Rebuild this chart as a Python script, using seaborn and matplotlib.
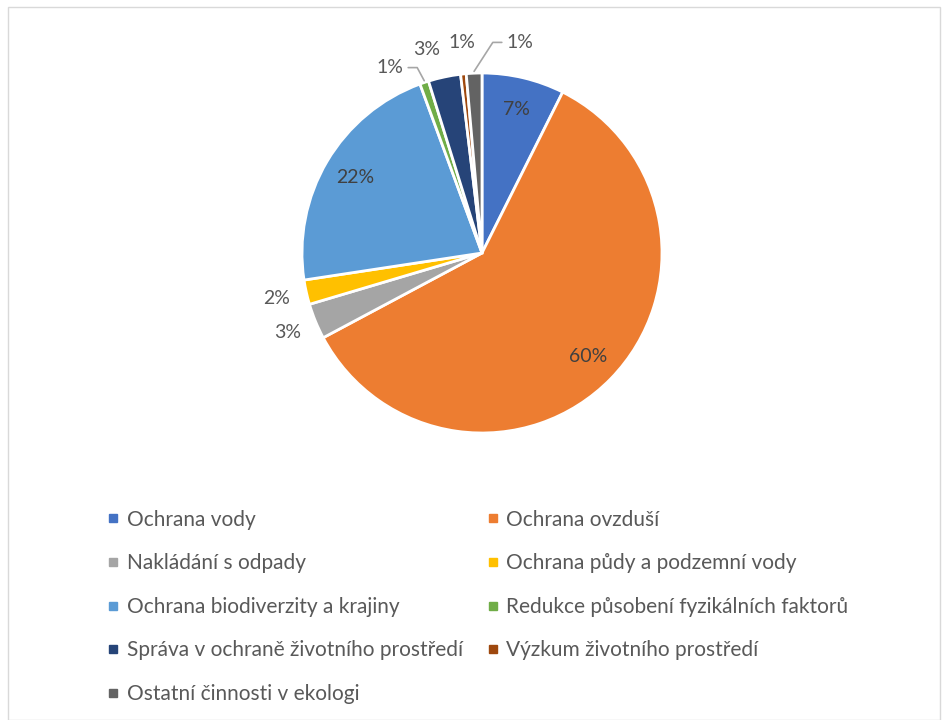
import numpy as np
import matplotlib
matplotlib.use("Agg")
import matplotlib.pyplot as plt
import seaborn as sns
from matplotlib.lines import Line2D
from matplotlib.patches import Rectangle

# ── Data ──────────────────────────────────────────────────────────────────────
categories = [
    "Ochrana vody",
    "Ochrana ovzduší",
    "Nakládání s odpady",
    "Ochrana půdy a podzemní vody",
    "Ochrana biodiverzity a krajiny",
    "Redukce působení fyzikálních faktorů",
    "Správa v ochraně životního prostředí",
    "Výzkum životního prostředí",
    "Ostatní činnosti v ekologi",
]
shares = [7.4, 59.8, 3.2, 2.2, 21.8, 0.8, 2.9, 0.5, 1.4]
pct_labels = ["7%", "60%", "3%", "2%", "22%", "1%", "3%", "1%", "1%"]
colors = ["#4472C4", "#ED7D31", "#A5A5A5", "#FFC000", "#5B9BD5",
          "#70AD47", "#264478", "#9E480E", "#636363"]

sns.set_style("white")
plt.rcParams["font.family"] = ["Lato", "DejaVu Sans"]
TXT = "#595959"

fig = plt.figure(figsize=(9.44, 7.2), dpi=100)
fig.patches.append(Rectangle((0.008, 0.0), 0.988, 0.99, transform=fig.transFigure,
                             fill=False, edgecolor="#D9D9D9", linewidth=1))

ax = fig.add_axes([302 / 944, (720 - 433) / 720, 360 / 944, 360 / 720])
wedges, _ = ax.pie(shares, colors=colors, startangle=90, counterclock=False,
                   radius=1.0, wedgeprops=dict(edgecolor="white", linewidth=2))
ax.set_xlim(-1, 1)
ax.set_ylim(-1, 1)
ax.set_aspect("equal")
ax.axis("off")

# hand-tuned positions for the crowded outside labels at the top
top_label_pos = {5: (-0.51, 1.03), 6: (-0.31, 1.13), 7: (-0.11, 1.17), 8: (0.21, 1.17)}

total = sum(shares)
cum = 0.0
for i, (v, lab) in enumerate(zip(shares, pct_labels)):
    mid = cum + v / 2
    cum += v
    ang = np.deg2rad(90 - 360 * mid / total)
    if v > 5:
        r = 0.82
        ax.text(r * np.cos(ang), r * np.sin(ang), lab, ha="center", va="center",
                fontsize=14, color="#404040")
        continue
    if i in top_label_pos:
        tx, ty = top_label_pos[i]
    else:
        tx, ty = 1.17 * np.cos(ang), 1.17 * np.sin(ang)
    ax.text(tx, ty, lab, ha="center", va="center", fontsize=14, color=TXT,
            clip_on=False)
    if i in (5, 8):
        ex, ey = 1.0 * np.cos(ang), 1.0 * np.sin(ang)
        side = 1 if i == 8 else -1
        kx = tx - side * 0.1
        ax.plot([ex, kx - side * 0.05, kx], [ey + 0.01, ty, ty],
                color="#A6A6A6", linewidth=1.2, clip_on=False)

# ── Legend ────────────────────────────────────────────────────────────────────
handles = [Line2D([0], [0], marker="s", linestyle="", markersize=6,
                  markerfacecolor=c, markeredgecolor=c) for c in colors]
order = [0, 2, 4, 6, 8, 1, 3, 5, 7]
leg = fig.legend([handles[i] for i in order], [categories[i] for i in order],
                 loc="upper left", bbox_to_anchor=(88 / 944, 1 - 491 / 720),
                 ncol=2, frameon=False, fontsize=15, handlelength=0.6,
                 handletextpad=0.35, labelspacing=1.13, columnspacing=1.15,
                 labelcolor=TXT)

plt.savefig("out.png", dpi=100)
plt.close()
